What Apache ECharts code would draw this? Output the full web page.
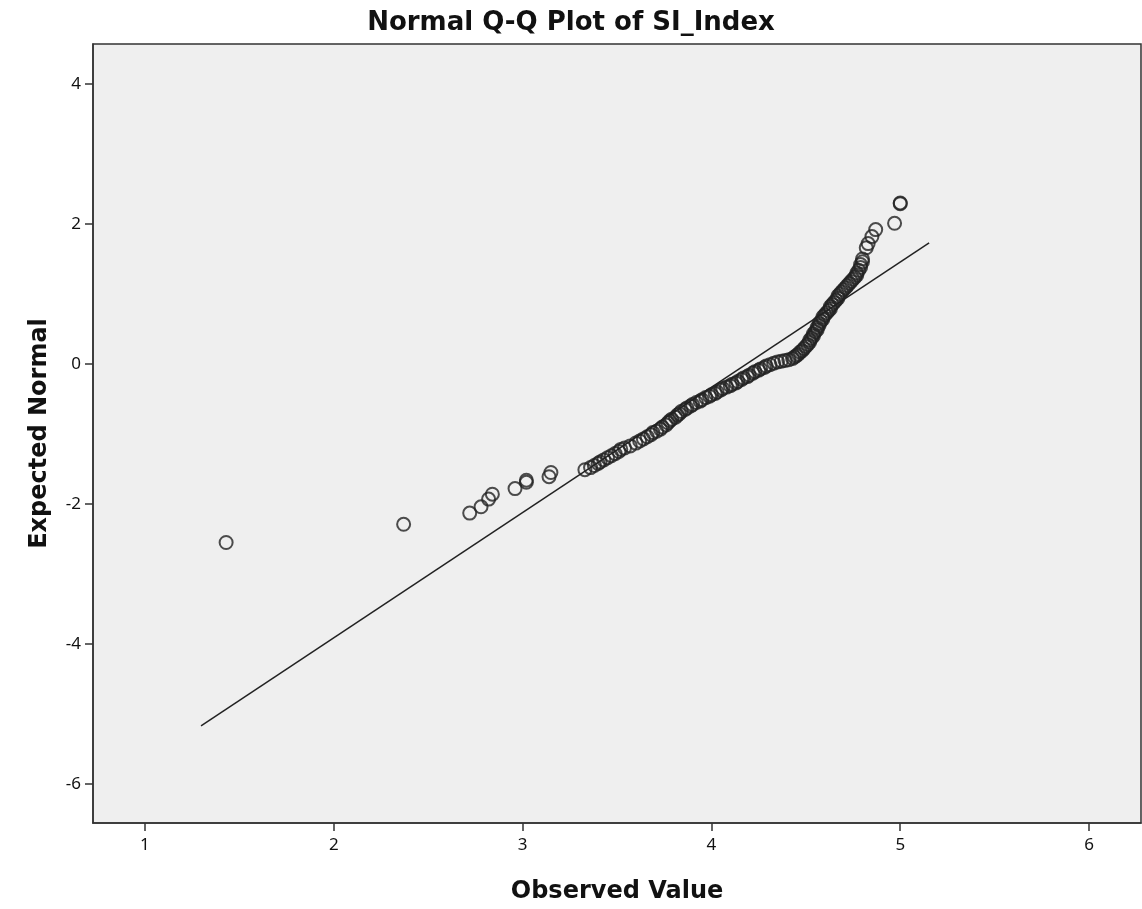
<!DOCTYPE html>
<html>
<head>
<meta charset="utf-8">
<script src="https://cdn.jsdelivr.net/npm/echarts@6/dist/echarts.min.js"></script>
<style>
html,body{margin:0;padding:0;background:#fff;}
#chart{width:1142px;height:909px;}
</style>
</head>
<body>
<div id="chart"></div>
<script>
const observed = [
  1.43, 2.37, 2.72, 2.78, 2.82, 2.84, 2.96, 3.02, 3.02, 3.14, 3.15,
  3.33, 3.36, 3.38, 3.40, 3.41, 3.43, 3.45, 3.47, 3.49, 3.51, 3.52,
  3.54, 3.57, 3.60, 3.62, 3.64, 3.66, 3.68, 3.69, 3.71, 3.73, 3.74,
  3.76, 3.77, 3.78, 3.79, 3.81, 3.82, 3.83, 3.84, 3.86, 3.87, 3.89,
  3.90, 3.92, 3.94, 3.95, 3.97, 3.99, 4.00, 4.02, 4.03, 4.05, 4.06,
  4.08, 4.10, 4.11, 4.13, 4.14, 4.16, 4.17, 4.19, 4.20, 4.22, 4.23,
  4.25, 4.26, 4.28, 4.29, 4.31, 4.33, 4.35, 4.37, 4.39, 4.41, 4.43,
  4.44, 4.45, 4.46, 4.47, 4.48, 4.49, 4.50, 4.51, 4.52, 4.52, 4.53,
  4.54, 4.54, 4.55, 4.56, 4.56, 4.57, 4.57, 4.58, 4.59, 4.59, 4.60,
  4.61, 4.62, 4.63, 4.63, 4.64, 4.65, 4.66, 4.67, 4.67, 4.68, 4.69,
  4.70, 4.71, 4.72, 4.73, 4.74, 4.75, 4.76, 4.77, 4.77, 4.78, 4.79,
  4.79, 4.80, 4.80, 4.82, 4.83, 4.85, 4.87, 4.97, 5.00, 5.00
];
const expected = [
  -2.55, -2.29, -2.13, -2.04, -1.93, -1.86, -1.78, -1.69, -1.66, -1.61, -1.55,
  -1.51, -1.48, -1.45, -1.42, -1.40, -1.37, -1.34, -1.31, -1.28, -1.25, -1.22,
  -1.20, -1.17, -1.13, -1.10, -1.07, -1.04, -1.01, -0.98, -0.96, -0.93, -0.90,
  -0.87, -0.84, -0.81, -0.79, -0.76, -0.73, -0.71, -0.68, -0.65, -0.63, -0.60,
  -0.58, -0.55, -0.53, -0.51, -0.48, -0.46, -0.44, -0.42, -0.40, -0.37, -0.35,
  -0.33, -0.31, -0.29, -0.27, -0.25, -0.22, -0.20, -0.18, -0.16, -0.13, -0.11,
  -0.09, -0.07, -0.05, -0.03, -0.01, 0.01, 0.03, 0.04, 0.05, 0.06, 0.08,
  0.10, 0.12, 0.14, 0.17, 0.19, 0.22, 0.25, 0.28, 0.31, 0.34, 0.37,
  0.40, 0.43, 0.46, 0.49, 0.52, 0.55, 0.58, 0.61, 0.64, 0.67, 0.70,
  0.73, 0.76, 0.79, 0.82, 0.85, 0.88, 0.91, 0.94, 0.97, 1.00, 1.03,
  1.06, 1.09, 1.12, 1.15, 1.18, 1.21, 1.24, 1.27, 1.30, 1.34, 1.38,
  1.42, 1.46, 1.50, 1.66, 1.72, 1.82, 1.92, 2.01, 2.29, 2.30
];
// Reference line end points (observed, expected)
const refLineX = [1.297, 5.153];
const refLineY = [-5.17, 1.73];
const xTicks = [1, 2, 3, 4, 5, 6];
const yTicks = [-6, -4, -2, 0, 2, 4];
const titleText = 'Normal Q-Q Plot of SI_Index';
const xName = 'Observed Value';
const yName = 'Expected Normal';

const FONT = 'DejaVu Sans';
const chart = echarts.init(document.getElementById('chart'), null, {renderer: 'canvas'});
const points = observed.map((v, i) => [v, expected[i]]);
const linePts = refLineX.map((v, i) => [v, refLineY[i]]);

chart.setOption({
  animation: false,
  backgroundColor: '#ffffff',
  title: {
    text: titleText,
    left: 'center',
    top: 5,
    textStyle: {fontFamily: FONT, fontWeight: 'bold', fontSize: 26, color: '#111'}
  },
  grid: {
    left: 93, top: 44, width: 1048, height: 779,
    show: true, backgroundColor: '#efefef', borderColor: '#333', borderWidth: 1.5
  },
  xAxis: {
    type: 'value', min: 0.725, max: 6.275,
    name: xName, nameLocation: 'middle', nameGap: 57,
    nameTextStyle: {fontFamily: FONT, fontWeight: 'bold', fontSize: 24, color: '#111'},
    axisLine: {show: true, onZero: false, lineStyle: {color: '#333', width: 1.5}},
    axisTick: {show: true, length: 8, customValues: xTicks, lineStyle: {color: '#333', width: 1.5}},
    axisLabel: {customValues: xTicks, margin: 14, fontFamily: 'Noto Sans', fontSize: 17, color: '#111'},
    splitLine: {show: false}
  },
  yAxis: {
    type: 'value', min: -6.557, max: 4.571,
    name: yName, nameLocation: 'middle', nameGap: 41, nameRotate: 90,
    nameTextStyle: {fontFamily: FONT, fontWeight: 'bold', fontSize: 24, color: '#111'},
    axisLine: {show: true, onZero: false, lineStyle: {color: '#333', width: 1.5}},
    axisTick: {show: true, length: 8, customValues: yTicks, lineStyle: {color: '#333', width: 1.5}},
    axisLabel: {customValues: yTicks, margin: 12, fontFamily: 'Noto Sans', fontSize: 17, color: '#111'},
    splitLine: {show: false}
  },
  series: [
    {
      type: 'line', data: linePts, showSymbol: false, silent: true,
      lineStyle: {color: '#222', width: 1.5}, z: 2
    },
    {
      type: 'scatter', data: points, symbol: 'circle', symbolSize: 13,
      itemStyle: {color: 'rgba(0,0,0,0)', borderColor: '#222', borderWidth: 2}, z: 3
    }
  ]
});
</script>
</body>
</html>
